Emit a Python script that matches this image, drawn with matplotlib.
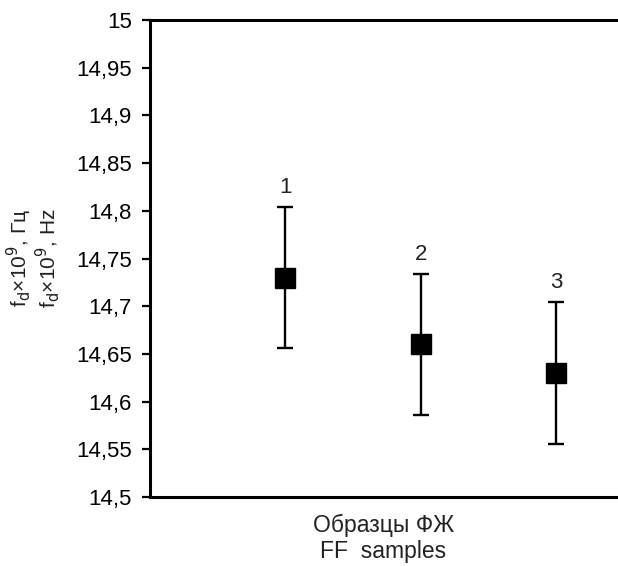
import numpy as np
import matplotlib.pyplot as plt
from matplotlib.ticker import FuncFormatter

plt.rcParams['font.family'] = ['Liberation Sans', 'DejaVu Sans']

# sample numbers and measured frequencies
samples = [1, 2, 3]
freq = [14.73, 14.66, 14.63]
err = [0.074, 0.074, 0.074]
labels = ['1', '2', '3']
yticks = np.arange(14.5, 15.001, 0.05)

fig = plt.figure(figsize=(6.18, 5.66), dpi=100)
ax = fig.add_axes([150/618, 69/566, 467/618, 477/566])

ax.errorbar(samples, freq, yerr=err, fmt='s', color='black', ms=14,
            elinewidth=1.7, capsize=6, capthick=1.7)
for x, y, e, lab in zip(samples, freq, err, labels):
    ax.annotate(lab, (x, y + e), xytext=(0, 6.5), textcoords='offset points',
                ha='center', va='bottom', fontsize=16, color='#222222')

ax.set_xlim(0, 3.45)
ax.set_ylim(14.5, 15)
ax.set_yticks(yticks)
ax.yaxis.set_major_formatter(FuncFormatter(lambda v, p: ('%g' % round(v, 2)).replace('.', ',')))
ax.set_xticks([])
ax.tick_params(axis='y', direction='out', length=6, width=1.6, pad=7,
               labelsize=16, colors='black')

ax.spines['right'].set_visible(False)
for s in ['left', 'top', 'bottom']:
    ax.spines[s].set_linewidth(2.2)

ax.set_ylabel('f$_{\\mathrm{d}}$×10$^{9}$, Гц\nf$_{\\mathrm{d}}$×10$^{9}$, Hz', fontsize=15,
              color='#222222', linespacing=1.0, labelpad=10)
ax.set_xlabel('Образцы ФЖ\nFF  samples', fontsize=16.5, color='#222222',
              linespacing=1.2, labelpad=12)

fig.savefig('out.png', dpi=100)
